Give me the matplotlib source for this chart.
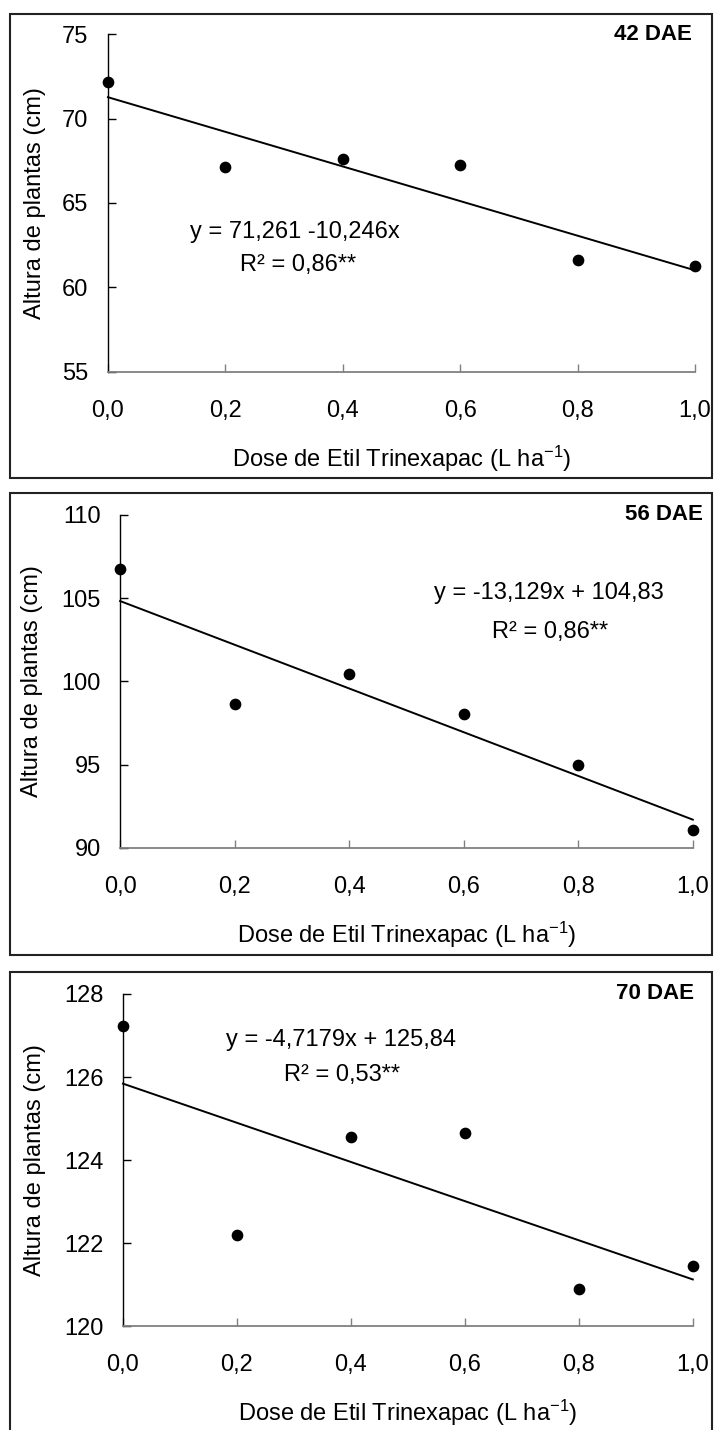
import matplotlib
matplotlib.use('Agg')
import matplotlib.pyplot as plt
from matplotlib.patches import Rectangle
import numpy as np

plt.rcParams['font.family'] = ['Liberation Sans', 'DejaVu Sans']
plt.rcParams['mathtext.fontset'] = 'custom'
plt.rcParams['mathtext.rm'] = 'Liberation Sans'
plt.rcParams['mathtext.it'] = 'Liberation Sans:italic'

# Data
doses = [0.0, 0.2, 0.4, 0.6, 0.8, 1.0]
altura_42 = [72.14, 67.15, 67.6, 67.25, 61.6, 61.25]
altura_56 = [106.74, 98.64, 100.44, 98.06, 95.0, 91.06]
altura_70 = [127.24, 122.2, 124.55, 124.65, 120.89, 121.45]

intercepts = [71.261, 104.83, 125.84]
slopes = [-10.246, -13.129, -4.7179]
equations = ['y = 71,261 -10,246x', 'y = -13,129x + 104,83', 'y = -4,7179x + 125,84']
r2_labels = ['R² = 0,86**', 'R² = 0,86**', 'R² = 0,53**']
panel_titles = ['42 DAE', '56 DAE', '70 DAE']
y_ticks = [[55, 60, 65, 70, 75], [90, 95, 100, 105, 110], [120, 122, 124, 126, 128]]
x_ticks = [0.0, 0.2, 0.4, 0.6, 0.8, 1.0]
x_ticklabels = ['0,0', '0,2', '0,4', '0,6', '0,8', '1,0']

series = [altura_42, altura_56, altura_70]

# layout (figure fractions)
axes_rects = [[0.151, 0.7399, 0.821, 0.2363],
              [0.168, 0.4070, 0.801, 0.2329],
              [0.172, 0.0727, 0.797, 0.2322]]
frames = [[0.014, 0.666, 0.982, 0.324],
          [0.014, 0.332, 0.982, 0.323],
          [0.014, -0.01, 0.982, 0.330]]
eq_pos = [(0.319, 0.414, 0.323, 0.317),
          (0.749, 0.766, 0.751, 0.649),
          (0.382, 0.861, 0.384, 0.756)]
title_x = [0.995, 1.017, 1.002]
ylabel_x = [-0.106, -0.134, -0.135]

fig = plt.figure(figsize=(7.15, 14.3), dpi=100)

for fr in frames:
    fig.patches.append(Rectangle((fr[0], fr[1]), fr[2], fr[3], transform=fig.transFigure,
                                 fill=False, edgecolor='#222222', linewidth=1.5))

for i in range(3):
    ax = fig.add_axes(axes_rects[i])
    yt = y_ticks[i]
    ax.scatter(doses, series[i], s=55, color='black', zorder=3, clip_on=False)
    xx = np.array([0.0, 1.0])
    ax.plot(xx, intercepts[i] + slopes[i] * xx, color='black', linewidth=1.4, clip_on=False)

    ax.set_xlim(0, 1)
    ax.set_ylim(yt[0], yt[-1])
    ax.set_yticks(yt)
    ax.set_xticks(x_ticks)
    ax.set_xticklabels(x_ticklabels)

    ax.spines['top'].set_visible(False)
    ax.spines['right'].set_visible(False)
    ax.spines['left'].set_color('black')
    ax.spines['bottom'].set_color('#808080')
    ax.spines['left'].set_linewidth(1.0)
    ax.spines['bottom'].set_linewidth(1.3)
    ax.tick_params(axis='x', direction='in', length=6, width=1, color='#808080',
                   labelsize=17, pad=20)
    ax.tick_params(axis='y', direction='in', length=6, width=1, color='black',
                   labelsize=17, pad=14)

    ax.set_xlabel('Dose de Etil Trinexapac (L ha$^{-1}$)', fontsize=17, labelpad=16)
    ax.set_ylabel('Altura de plantas (cm)', fontsize=17)
    ax.yaxis.set_label_coords(ylabel_x[i], 0.5)

    ex, ey, rx, ry = eq_pos[i]
    ax.text(ex, ey, equations[i], transform=ax.transAxes, ha='center', va='center', fontsize=17)
    ax.text(rx, ry, r2_labels[i], transform=ax.transAxes, ha='center', va='center', fontsize=17)
    ax.text(title_x[i], 1.0, panel_titles[i], transform=ax.transAxes, ha='right', va='center',
            fontsize=16, fontweight='bold')

fig.savefig('out.png', dpi=100)
